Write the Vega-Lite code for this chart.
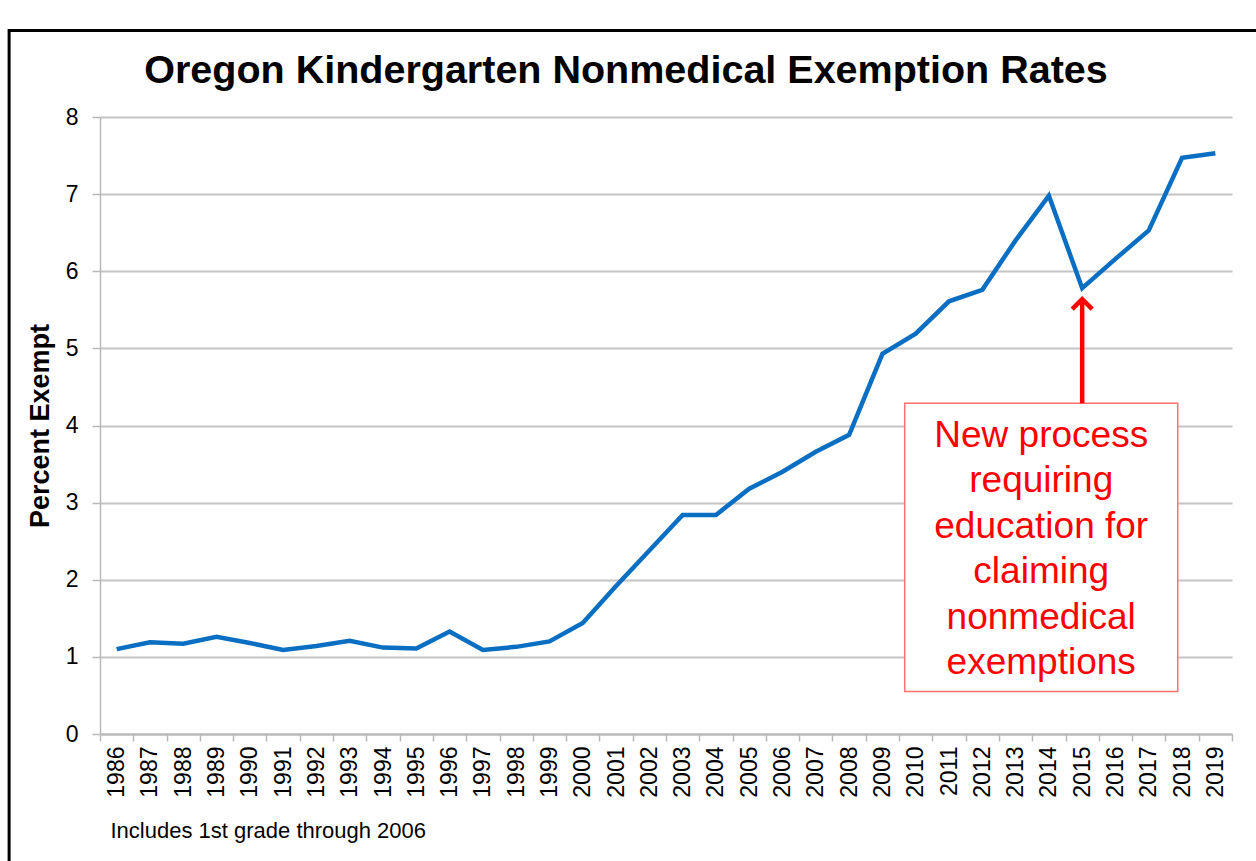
{
  "$schema": "https://vega.github.io/schema/vega-lite/v6.json",
  "autosize": {"type": "none"},
  "width": 1132,
  "height": 617,
  "padding": {"left": 100, "top": 117, "right": 24, "bottom": 127},
  "background": "white",
  "config": {
    "font": "Liberation Sans",
    "view": {"stroke": null},
    "title": {"font": "Liberation Sans"}
  },
  "title": {
    "text": "Oregon Kindergarten Nonmedical Exemption Rates",
    "fontSize": 39.5,
    "fontWeight": "bold",
    "color": "#000000",
    "anchor": "middle",
    "baseline": "alphabetic",
    "offset": -93,
    "dx": -40
  },
  "datasets": {
    "rates": [
      {"year": "1986", "pct": 1.10},
      {"year": "1987", "pct": 1.19},
      {"year": "1988", "pct": 1.17},
      {"year": "1989", "pct": 1.26},
      {"year": "1990", "pct": 1.18},
      {"year": "1991", "pct": 1.09},
      {"year": "1992", "pct": 1.14},
      {"year": "1993", "pct": 1.21},
      {"year": "1994", "pct": 1.12},
      {"year": "1995", "pct": 1.11},
      {"year": "1996", "pct": 1.33},
      {"year": "1997", "pct": 1.09},
      {"year": "1998", "pct": 1.13},
      {"year": "1999", "pct": 1.20},
      {"year": "2000", "pct": 1.44},
      {"year": "2001", "pct": 1.92},
      {"year": "2002", "pct": 2.38},
      {"year": "2003", "pct": 2.84},
      {"year": "2004", "pct": 2.84},
      {"year": "2005", "pct": 3.18},
      {"year": "2006", "pct": 3.40},
      {"year": "2007", "pct": 3.66},
      {"year": "2008", "pct": 3.88},
      {"year": "2009", "pct": 4.93},
      {"year": "2010", "pct": 5.19},
      {"year": "2011", "pct": 5.61},
      {"year": "2012", "pct": 5.76},
      {"year": "2013", "pct": 6.40},
      {"year": "2014", "pct": 6.98},
      {"year": "2015", "pct": 5.78},
      {"year": "2016", "pct": 6.16},
      {"year": "2017", "pct": 6.53},
      {"year": "2018", "pct": 7.47},
      {"year": "2019", "pct": 7.53}
    ],
    "note": [
      {"x1": 24.17, "x2": 32.37, "y1": 0.55, "y2": 4.29, "xa": 29.5, "ya": 4.29, "yb": 5.60, "xt": 28.27, "yt": 4.1,
       "label": "New process\nrequiring\neducation for\nclaiming\nnonmedical\nexemptions"}
    ],
    "frame": [
      {"x1": -2.73, "x2": 36, "y1": -3, "y2": 9.12}
    ]
  },
  "layer": [
    {
      "data": {"name": "rates"},
      "mark": {"type": "line", "color": "#0a6fc2", "strokeWidth": 4.5, "strokeJoin": "miter"},
      "encoding": {
        "x": {
          "field": "year", "type": "ordinal",
          "scale": {"type": "band", "paddingInner": 0, "paddingOuter": 0},
          "axis": {
            "title": "Includes 1st grade through 2006",
            "titleFontSize": 22,
            "titleFontWeight": "normal",
            "titleColor": "#000000",
            "titleAnchor": "start",
            "titleAlign": "left",
            "titleBaseline": "bottom",
            "titleX": 10,
            "titleY": 108,
            "labelAngle": 270,
            "labelFontSize": 23,
            "labelColor": "#000000",
            "labelPadding": 5,
            "tickBand": "extent",
            "tickSize": 7,
            "tickColor": "#b8b8b8",
            "tickWidth": 1.5,
            "domainColor": "#b8b8b8",
            "domainWidth": 2,
            "grid": false
          }
        },
        "y": {
          "field": "pct", "type": "quantitative",
          "scale": {"domain": [0, 8], "nice": false},
          "axis": {
            "title": "Percent Exempt",
            "titleFontSize": 27,
            "titleFontWeight": "bold",
            "titleColor": "#000000",
            "titlePadding": 11,
            "values": [0, 1, 2, 3, 4, 5, 6, 7, 8],
            "format": "d",
            "labelFontSize": 23,
            "labelColor": "#000000",
            "labelPadding": 14,
            "tickSize": 8,
            "tickColor": "#b8b8b8",
            "tickWidth": 1.5,
            "domainColor": "#b8b8b8",
            "domainWidth": 1.5,
            "grid": true,
            "gridColor": "#c4c4c4",
            "gridWidth": 2
          }
        }
      }
    },
    {
      "data": {"name": "frame"},
      "mark": {"type": "rect", "fill": null, "stroke": "#000000", "strokeWidth": 3, "clip": false},
      "encoding": {
        "x": {"field": "x1", "type": "quantitative", "scale": {"domain": [0, 34], "nice": false, "zero": false}, "axis": null},
        "x2": {"field": "x2"},
        "y": {"field": "y1", "type": "quantitative"},
        "y2": {"field": "y2"}
      }
    },
    {
      "data": {"name": "note"},
      "mark": {"type": "rect", "fill": "white", "stroke": "#ff7070", "strokeWidth": 1.5},
      "encoding": {
        "x": {"field": "x1", "type": "quantitative", "scale": {"domain": [0, 34], "nice": false, "zero": false}, "axis": null},
        "x2": {"field": "x2"},
        "y": {"field": "y1", "type": "quantitative"},
        "y2": {"field": "y2"}
      }
    },
    {
      "data": {"name": "note"},
      "mark": {"type": "rule", "color": "#ff0000", "strokeWidth": 4.5},
      "encoding": {
        "x": {"field": "xa", "type": "quantitative", "scale": {"domain": [0, 34], "nice": false, "zero": false}, "axis": null},
        "y": {"field": "ya", "type": "quantitative"},
        "y2": {"field": "yb"}
      }
    },
    {
      "data": {"name": "note"},
      "mark": {"type": "point", "shape": "M-1,0.7L0,-0.3L1,0.7", "filled": false, "stroke": "#ff0000", "strokeWidth": 4.5, "strokeJoin": "miter", "size": 400, "opacity": 1},
      "encoding": {
        "x": {"field": "xa", "type": "quantitative", "scale": {"domain": [0, 34], "nice": false, "zero": false}, "axis": null},
        "y": {"field": "yb", "type": "quantitative"}
      }
    },
    {
      "data": {"name": "note"},
      "mark": {"type": "text", "color": "#ff0000", "fontSize": 37, "lineBreak": "\n", "lineHeight": 45.5, "align": "center", "baseline": "top"},
      "encoding": {
        "x": {"field": "xt", "type": "quantitative", "scale": {"domain": [0, 34], "nice": false, "zero": false}, "axis": null},
        "y": {"field": "yt", "type": "quantitative"},
        "text": {"field": "label"}
      }
    }
  ],
  "resolve": {"scale": {"x": "independent"}, "axis": {"x": "independent"}}
}
